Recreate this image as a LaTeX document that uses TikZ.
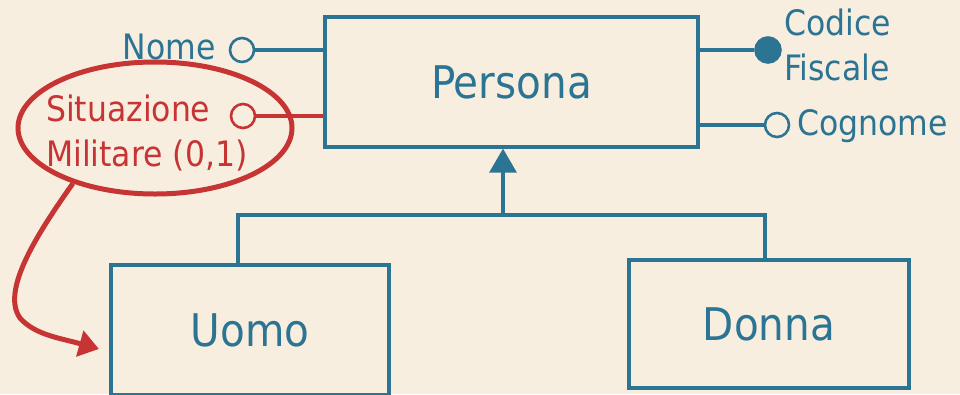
\documentclass[tikz,border=0pt]{standalone}
\usepackage{fontspec}
\setmainfont{DejaVu Sans Condensed}
\usetikzlibrary{arrows.meta,shapes.geometric}
\definecolor{bg}{HTML}{F8EEE0}
\definecolor{erblue}{HTML}{2B7493}
\definecolor{erred}{HTML}{C63434}
\begin{document}
\begin{tikzpicture}[x=1pt,y=-1pt,
  entity/.style={draw=erblue,line width=3.2pt,rectangle,inner sep=0pt,text=erblue,
    font=\fontsize{45}{52}\selectfont},
  attr/.style={draw=erblue,line width=2.6pt,circle,minimum size=24pt,inner sep=0pt,fill=bg},
  keyattr/.style={attr,fill=erblue},
  lbl/.style={inner sep=0pt,text=erblue,font=\fontsize{35}{45}\selectfont},
  link/.style={draw=erblue,line width=3.2pt}]
\useasboundingbox[fill=bg] (0,0) rectangle (960,394);

% entities
\node[entity,minimum width=373pt,minimum height=130pt] (persona) at (511.5,82) {Persona};
\node[entity,minimum width=278pt,minimum height=130pt] (uomo) at (250,330) {Uomo};
\node[entity,minimum width=280pt,minimum height=128pt] (donna) at (769,324) {Donna};

% attributes
\node[attr] (nomec) at (242,50) {};
\node[lbl,anchor=base east] (nome) at (216,59) {Nome};
\draw[link] (nomec) -- (nomec -| persona.west);

\node[keyattr,minimum size=25pt] (codc) at (768,50) {};
\node[lbl,anchor=base west] (cod1) at (784,35) {Codice};
\node[lbl,anchor=base west] (cod2) at (784,80) {Fiscale};
\draw[link] (codc) -- (codc -| persona.east);

\node[attr] (cogc) at (777,125) {};
\node[lbl,anchor=base west] (cog) at (797,135) {Cognome};
\draw[link] (cogc) -- (cogc -| persona.east);

\node[attr,draw=erred] (sitc) at (243,116) {};
\node[lbl,text=erred,anchor=base west] (sit1) at (46,121) {Situazione};
\node[lbl,text=erred,anchor=base west] (sit2) at (46,166) {Militare (0,1)};
\draw[link,draw=erred] (sitc) -- (sitc -| persona.west);

% generalization
\coordinate (hub) at (503,215);
\draw[link,-{Triangle[length=24pt,width=27pt]}] (hub) -- (hub |- persona.south);
\draw[link] (uomo.north -| 238,0) |- (hub) -| (donna.north -| 765,0);

% highlight
\node[draw=erred,line width=5pt,ellipse,minimum width=274pt,minimum height=132pt,inner sep=0pt] (hl) at (155,128) {};
\draw[erred,line width=5pt,-{Triangle[length=20pt,width=26pt]}]
  (hl.-146) .. controls (40,230) and (0,290) .. (20,318)
  .. controls (35,335) and (60,338) .. (99,349);
\end{tikzpicture}
\end{document}
